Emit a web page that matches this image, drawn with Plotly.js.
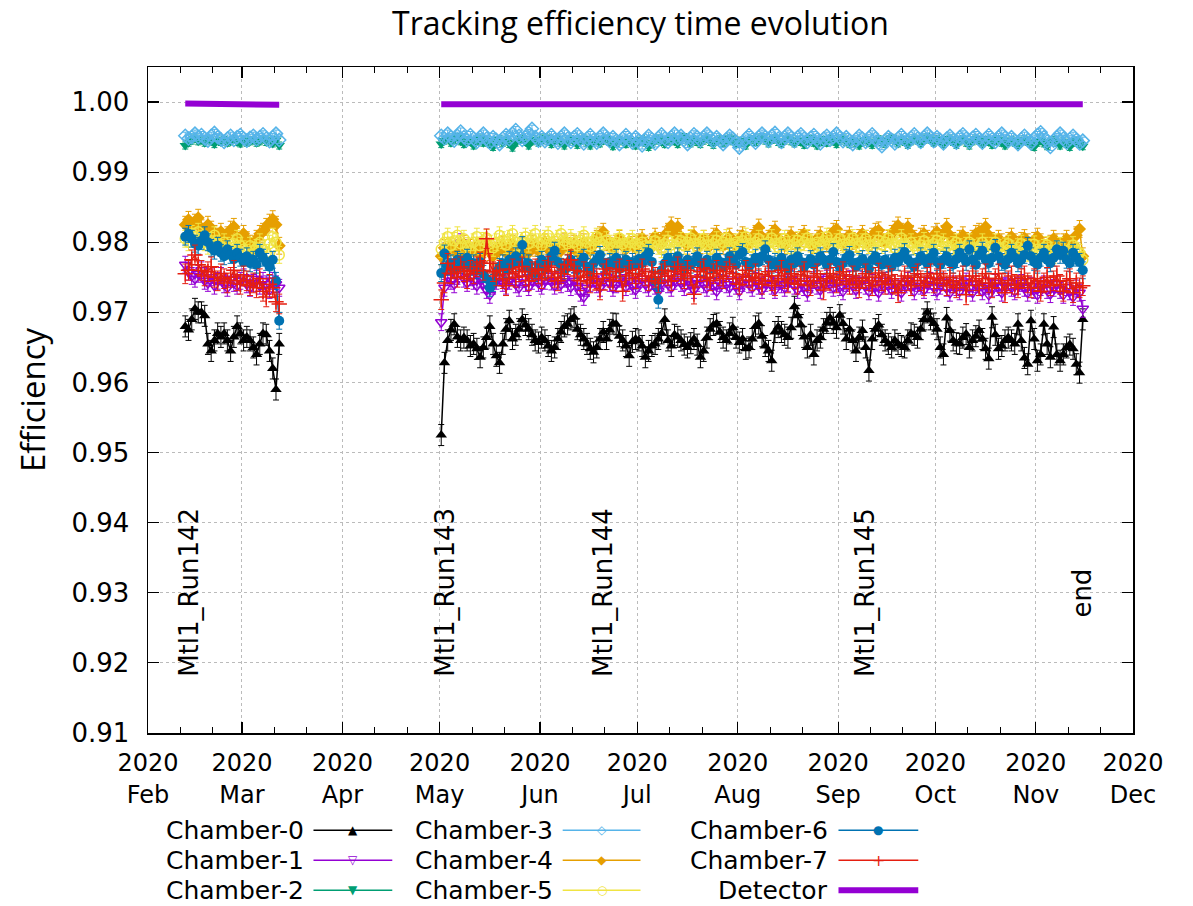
<!DOCTYPE html>
<html>
<head>
<meta charset="utf-8">
<script src="https://cdn.plot.ly/plotly-3.0.1.min.js"></script>
<style>html,body{margin:0;padding:0;background:#fff}#chart{width:1193px;height:906px}</style>
</head>
<body>
<div id="chart"></div>
<script>
// ---------- DATA ----------
const seg1Start = '2020-02-12';   // Mtl1_Run142 daily points
const seg2Start = '2020-05-01';   // Mtl1_Run143.. daily points
const gapDate = '2020-04-01';

const seriesNames = ['Chamber-0','Chamber-1','Chamber-2','Chamber-3','Chamber-4','Chamber-5','Chamber-6','Chamber-7','Detector'];

const monthTicks = ['2020-02-01','2020-03-01','2020-04-01','2020-05-01','2020-06-01','2020-07-01','2020-08-01','2020-09-01','2020-10-01','2020-11-01','2020-12-01'];
const monthLabels = ['2020<br>Feb','2020<br>Mar','2020<br>Apr','2020<br>May','2020<br>Jun','2020<br>Jul','2020<br>Aug','2020<br>Sep','2020<br>Oct','2020<br>Nov','2020<br>Dec'];
const minorTicks = ['2020-02-11','2020-02-21','2020-03-11','2020-03-21','2020-04-11','2020-04-21','2020-05-11','2020-05-21','2020-06-11','2020-06-21','2020-07-11','2020-07-21','2020-08-11','2020-08-21','2020-09-11','2020-09-21','2020-10-11','2020-10-21','2020-11-11','2020-11-21'];
const yTicks = [0.91,0.92,0.93,0.94,0.95,0.96,0.97,0.98,0.99,1.00];

const runLabels = ['Mtl1_Run142','Mtl1_Run143','Mtl1_Run144','Mtl1_Run145','end'];
const runDates = ['2020-02-13T16:00','2020-05-02T16:00','2020-06-20T12:00','2020-09-09T09:00','2020-11-15T05:00'];
const runLabelY = [0.93,0.93,0.93,0.93,0.93];

// Chamber-0
const c0Seg1 = [0.9680,0.9675,0.9690,0.9705,0.9700,0.9700,0.9695,0.9655,0.9645,0.9660,
0.9670,0.9665,0.9670,0.9660,0.9645,0.9665,0.9680,0.9670,0.9660,0.9665,
0.9660,0.9650,0.9640,0.9655,0.9670,0.9668,0.9645,0.9620,0.9590,0.9655];
const c0Seg2 = [0.9525,0.9628,0.9660,0.9675,0.9683,0.9665,0.9660,0.9664,0.9660,0.9652,
0.9655,0.9648,0.9636,0.9650,0.9664,0.9680,0.9655,0.9638,0.9628,0.9655,
0.9676,0.9688,0.9662,0.9668,0.9676,0.9690,0.9682,0.9676,0.9668,0.9660,
0.9657,0.9664,0.9660,0.9652,0.9645,0.9650,0.9662,0.9672,0.9680,0.9683,
0.9690,0.9693,0.9676,0.9668,0.9662,0.9655,0.9648,0.9643,0.9650,0.9662,
0.9672,0.9662,0.9675,0.9684,0.9683,0.9666,0.9660,0.9652,0.9638,0.9658,
0.9662,0.9660,0.9652,0.9636,0.9645,0.9652,0.9655,0.9662,0.9670,0.9690,
0.9660,0.9652,0.9668,0.9665,0.9660,0.9654,0.9650,0.9656,0.9662,0.9654,
0.9636,0.9645,0.9664,0.9676,0.9682,0.9684,0.9672,0.9664,0.9660,0.9670,
0.9678,0.9664,0.9657,0.9662,0.9648,0.9650,0.9662,0.9680,0.9684,0.9666,
0.9652,0.9645,0.9631,0.9672,0.9679,0.9672,0.9668,0.9664,0.9678,0.9708,
0.9695,0.9682,0.9665,0.9650,0.9668,0.9640,0.9660,0.9664,0.9676,0.9685,
0.9692,0.9685,0.9678,0.9696,0.9684,0.9662,0.9676,0.9660,0.9645,0.9664,
0.9674,0.9650,0.9617,0.9662,0.9676,0.9682,0.9668,0.9660,0.9655,0.9650,
0.9660,0.9655,0.9652,0.9650,0.9660,0.9670,0.9668,0.9664,0.9676,0.9690,
0.9700,0.9690,0.9684,0.9676,0.9650,0.9640,0.9692,0.9674,0.9660,0.9656,
0.9655,0.9664,0.9669,0.9650,0.9660,0.9666,0.9674,0.9662,0.9648,0.9634,
0.9693,0.9668,0.9648,0.9652,0.9660,0.9664,0.9660,0.9655,0.9683,0.9660,
0.9635,0.9626,0.9688,0.9662,0.9631,0.9640,0.9683,0.9655,0.9636,0.9679,
0.9640,0.9631,0.9640,0.9650,0.9654,0.9648,0.9626,0.9614,0.9690];

// Chamber-1
const c1Seg1 = [0.9768,0.9758,0.9752,0.9748,0.9755,0.9760,0.9745,0.9742,0.9750,0.9738,
0.9745,0.9752,0.9740,0.9735,0.9748,0.9742,0.9738,0.9745,0.9750,0.9740,
0.9735,0.9742,0.9748,0.9738,0.9745,0.9740,0.9732,0.9745,0.9740,0.9735];
const c1Seg2 = [0.9686,0.9735,0.9750,0.9745,0.9740,0.9752,0.9800,0.9748,0.9742,0.9750,
0.9745,0.9738,0.9748,0.9740,0.9732,0.9725,0.9738,0.9745,0.9750,0.9742,
0.9738,0.9745,0.9752,0.9740,0.9735,0.9748,0.9742,0.9736,0.9745,0.9750,
0.9742,0.9738,0.9745,0.9752,0.9744,0.9738,0.9745,0.9740,0.9748,0.9742,
0.9736,0.9745,0.9738,0.9728,0.9722,0.9735,0.9742,0.9748,0.9740,0.9735,
0.9745,0.9750,0.9742,0.9735,0.9740,0.9748,0.9742,0.9736,0.9745,0.9738,
0.9732,0.9742,0.9748,0.9740,0.9735,0.9745,0.9738,0.9730,0.9742,0.9748,
0.9740,0.9735,0.9745,0.9750,0.9742,0.9736,0.9745,0.9740,0.9732,0.9742,
0.9748,0.9740,0.9735,0.9745,0.9738,0.9730,0.9742,0.9748,0.9740,0.9735,
0.9745,0.9738,0.9730,0.9742,0.9748,0.9740,0.9735,0.9745,0.9738,0.9732,
0.9742,0.9748,0.9738,0.9732,0.9745,0.9740,0.9735,0.9742,0.9748,0.9738,
0.9732,0.9742,0.9736,0.9728,0.9740,0.9746,0.9738,0.9732,0.9742,0.9748,
0.9740,0.9735,0.9742,0.9736,0.9730,0.9742,0.9748,0.9738,0.9732,0.9740,
0.9746,0.9738,0.9730,0.9742,0.9736,0.9728,0.9740,0.9745,0.9738,0.9732,
0.9742,0.9736,0.9728,0.9740,0.9745,0.9736,0.9730,0.9742,0.9738,0.9732,
0.9740,0.9745,0.9736,0.9730,0.9738,0.9744,0.9735,0.9728,0.9740,0.9736,
0.9730,0.9738,0.9744,0.9735,0.9728,0.9740,0.9736,0.9730,0.9738,0.9725,
0.9735,0.9742,0.9736,0.9728,0.9738,0.9744,0.9735,0.9730,0.9738,0.9742,
0.9735,0.9728,0.9738,0.9732,0.9725,0.9736,0.9740,0.9732,0.9726,0.9735,
0.9740,0.9732,0.9725,0.9736,0.9730,0.9722,0.9734,0.9728,0.9705];

// Chamber-2
const c2Seg1 = [0.9938,0.9942,0.9945,0.9948,0.9944,0.9946,0.9942,0.9947,0.9944,0.9940,
0.9945,0.9943,0.9946,0.9942,0.9944,0.9947,0.9943,0.9941,0.9945,0.9942,
0.9944,0.9946,0.9942,0.9944,0.9947,0.9943,0.9945,0.9941,0.9946,0.9938];
const c2Seg2 = [0.9940,0.9945,0.9948,0.9942,0.9946,0.9950,0.9944,0.9940,0.9946,0.9943,
0.9938,0.9944,0.9948,0.9942,0.9945,0.9940,0.9936,0.9944,0.9947,0.9942,
0.9945,0.9940,0.9935,0.9942,0.9946,0.9948,0.9943,0.9938,0.9944,0.9947,
0.9942,0.9946,0.9950,0.9944,0.9940,0.9945,0.9948,0.9942,0.9938,0.9944,
0.9947,0.9943,0.9939,0.9945,0.9948,0.9942,0.9938,0.9944,0.9946,0.9941,
0.9945,0.9948,0.9943,0.9937,0.9942,0.9946,0.9944,0.9940,0.9945,0.9942,
0.9938,0.9944,0.9947,0.9942,0.9936,0.9940,0.9945,0.9948,0.9943,0.9940,
0.9945,0.9948,0.9944,0.9940,0.9946,0.9950,0.9945,0.9941,0.9946,0.9943,
0.9940,0.9945,0.9948,0.9943,0.9939,0.9944,0.9947,0.9942,0.9946,0.9949,
0.9944,0.9940,0.9945,0.9942,0.9938,0.9944,0.9947,0.9943,0.9946,0.9950,
0.9945,0.9941,0.9946,0.9948,0.9943,0.9940,0.9945,0.9948,0.9944,0.9941,
0.9946,0.9943,0.9939,0.9944,0.9947,0.9942,0.9938,0.9943,0.9946,0.9942,
0.9947,0.9944,0.9940,0.9945,0.9948,0.9943,0.9940,0.9945,0.9942,0.9938,
0.9943,0.9946,0.9942,0.9939,0.9944,0.9947,0.9943,0.9940,0.9946,0.9949,
0.9945,0.9941,0.9946,0.9943,0.9939,0.9944,0.9948,0.9945,0.9941,0.9946,
0.9950,0.9946,0.9942,0.9947,0.9944,0.9940,0.9945,0.9948,0.9943,0.9939,
0.9944,0.9947,0.9942,0.9938,0.9944,0.9948,0.9945,0.9941,0.9946,0.9943,
0.9939,0.9944,0.9947,0.9942,0.9938,0.9943,0.9946,0.9942,0.9939,0.9944,
0.9947,0.9943,0.9940,0.9936,0.9942,0.9945,0.9941,0.9937,0.9943,0.9946,
0.9942,0.9938,0.9944,0.9940,0.9936,0.9942,0.9945,0.9940,0.9937];

// Chamber-3
const c3Seg1 = [0.9952,0.9948,0.9950,0.9955,0.9950,0.9953,0.9948,0.9945,0.9952,0.9956,
0.9950,0.9947,0.9943,0.9948,0.9952,0.9946,0.9950,0.9953,0.9948,0.9945,
0.9949,0.9952,0.9947,0.9950,0.9954,0.9948,0.9944,0.9950,0.9955,0.9946];
const c3Seg2 = [0.9952,0.9948,0.9955,0.9950,0.9945,0.9952,0.9958,0.9950,0.9946,0.9953,
0.9948,0.9943,0.9950,0.9955,0.9948,0.9942,0.9950,0.9946,0.9940,0.9948,
0.9953,0.9947,0.9955,0.9960,0.9952,0.9946,0.9950,0.9956,0.9962,0.9950,
0.9945,0.9950,0.9944,0.9948,0.9953,0.9947,0.9942,0.9950,0.9955,0.9948,
0.9943,0.9950,0.9954,0.9947,0.9941,0.9948,0.9953,0.9946,0.9942,0.9950,
0.9955,0.9948,0.9944,0.9950,0.9945,0.9940,0.9948,0.9953,0.9947,0.9942,
0.9950,0.9945,0.9938,0.9946,0.9952,0.9947,0.9941,0.9949,0.9954,0.9948,
0.9943,0.9950,0.9955,0.9948,0.9952,0.9946,0.9940,0.9948,0.9954,0.9950,
0.9945,0.9950,0.9955,0.9949,0.9944,0.9950,0.9945,0.9940,0.9947,0.9952,
0.9948,0.9943,0.9935,0.9942,0.9948,0.9953,0.9947,0.9942,0.9950,0.9955,
0.9950,0.9945,0.9952,0.9956,0.9948,0.9943,0.9950,0.9955,0.9949,0.9944,
0.9950,0.9954,0.9948,0.9943,0.9949,0.9953,0.9947,0.9941,0.9948,0.9952,
0.9946,0.9950,0.9955,0.9949,0.9944,0.9950,0.9945,0.9940,0.9947,0.9952,
0.9948,0.9943,0.9949,0.9954,0.9948,0.9942,0.9937,0.9945,0.9950,0.9946,
0.9941,0.9948,0.9953,0.9947,0.9942,0.9949,0.9954,0.9948,0.9943,0.9950,
0.9955,0.9949,0.9944,0.9950,0.9946,0.9941,0.9948,0.9952,0.9946,0.9942,
0.9950,0.9954,0.9948,0.9943,0.9949,0.9953,0.9947,0.9942,0.9948,0.9953,
0.9947,0.9943,0.9950,0.9955,0.9949,0.9944,0.9950,0.9945,0.9940,0.9947,
0.9952,0.9946,0.9941,0.9948,0.9953,0.9957,0.9950,0.9944,0.9936,0.9945,
0.9950,0.9955,0.9948,0.9942,0.9947,0.9952,0.9946,0.9941,0.9945];

// Chamber-4
const c4Seg1 = [0.9825,0.9832,0.9822,0.9828,0.9835,0.9820,0.9815,0.9825,0.9818,0.9812,
0.9808,0.9815,0.9802,0.9810,0.9818,0.9822,0.9808,0.9800,0.9812,0.9803,
0.9798,0.9790,0.9805,0.9812,0.9815,0.9822,0.9828,0.9833,0.9825,0.9795];
const c4Seg2 = [0.9780,0.9792,0.9785,0.9795,0.9788,0.9782,0.9790,0.9798,0.9785,0.9792,
0.9788,0.9795,0.9782,0.9790,0.9800,0.9786,0.9780,0.9792,0.9788,0.9796,
0.9785,0.9792,0.9798,0.9788,0.9782,0.9795,0.9790,0.9785,0.9798,0.9792,
0.9788,0.9795,0.9800,0.9790,0.9785,0.9796,0.9792,0.9788,0.9800,0.9795,
0.9790,0.9798,0.9786,0.9792,0.9800,0.9795,0.9788,0.9796,0.9805,0.9810,
0.9815,0.9800,0.9795,0.9790,0.9798,0.9805,0.9795,0.9790,0.9800,0.9796,
0.9792,0.9800,0.9806,0.9798,0.9792,0.9800,0.9808,0.9802,0.9798,0.9810,
0.9815,0.9824,0.9812,0.9822,0.9808,0.9800,0.9795,0.9805,0.9810,0.9800,
0.9796,0.9805,0.9800,0.9795,0.9808,0.9812,0.9800,0.9795,0.9802,0.9808,
0.9800,0.9795,0.9805,0.9810,0.9802,0.9798,0.9806,0.9812,0.9821,0.9808,
0.9800,0.9805,0.9812,0.9818,0.9806,0.9800,0.9795,0.9805,0.9810,0.9802,
0.9798,0.9806,0.9812,0.9805,0.9800,0.9796,0.9805,0.9810,0.9802,0.9798,
0.9808,0.9815,0.9819,0.9806,0.9800,0.9805,0.9810,0.9802,0.9798,0.9806,
0.9812,0.9805,0.9800,0.9808,0.9815,0.9817,0.9806,0.9800,0.9805,0.9812,
0.9818,0.9824,0.9815,0.9810,0.9822,0.9812,0.9805,0.9800,0.9808,0.9812,
0.9805,0.9800,0.9810,0.9815,0.9806,0.9812,0.9822,0.9810,0.9802,0.9798,
0.9805,0.9810,0.9802,0.9796,0.9805,0.9812,0.9815,0.9808,0.9822,0.9810,
0.9802,0.9798,0.9805,0.9800,0.9795,0.9802,0.9808,0.9800,0.9796,0.9802,
0.9806,0.9800,0.9795,0.9802,0.9808,0.9800,0.9795,0.9790,0.9798,0.9805,
0.9800,0.9794,0.9800,0.9805,0.9798,0.9792,0.9810,0.9819,0.9780];

// Chamber-5
const c5Seg1 = [0.9805,0.9800,0.9812,0.9808,0.9815,0.9805,0.9800,0.9795,0.9802,0.9810,
0.9798,0.9792,0.9800,0.9795,0.9788,0.9798,0.9805,0.9795,0.9790,0.9785,
0.9795,0.9788,0.9792,0.9800,0.9790,0.9785,0.9798,0.9808,0.9800,0.9782];
const c5Seg2 = [0.9790,0.9800,0.9808,0.9795,0.9802,0.9810,0.9798,0.9805,0.9795,0.9788,
0.9800,0.9808,0.9795,0.9802,0.9806,0.9798,0.9792,0.9800,0.9810,0.9803,
0.9796,0.9805,0.9812,0.9800,0.9795,0.9802,0.9808,0.9798,0.9805,0.9812,
0.9800,0.9795,0.9805,0.9810,0.9800,0.9796,0.9805,0.9812,0.9802,0.9798,
0.9806,0.9800,0.9795,0.9803,0.9810,0.9800,0.9794,0.9802,0.9808,0.9800,
0.9796,0.9803,0.9798,0.9792,0.9800,0.9806,0.9798,0.9793,0.9800,0.9805,
0.9798,0.9792,0.9800,0.9795,0.9788,0.9796,0.9802,0.9795,0.9790,0.9798,
0.9803,0.9796,0.9790,0.9798,0.9802,0.9795,0.9800,0.9806,0.9798,0.9792,
0.9800,0.9805,0.9796,0.9790,0.9798,0.9803,0.9796,0.9800,0.9806,0.9798,
0.9792,0.9800,0.9796,0.9802,0.9808,0.9798,0.9793,0.9800,0.9805,0.9797,
0.9792,0.9800,0.9806,0.9798,0.9793,0.9800,0.9805,0.9796,0.9790,0.9798,
0.9803,0.9796,0.9800,0.9806,0.9798,0.9792,0.9800,0.9795,0.9802,0.9808,
0.9798,0.9793,0.9800,0.9805,0.9797,0.9792,0.9800,0.9806,0.9798,0.9794,
0.9800,0.9805,0.9796,0.9790,0.9798,0.9803,0.9796,0.9800,0.9806,0.9798,
0.9792,0.9800,0.9806,0.9798,0.9793,0.9800,0.9795,0.9788,0.9796,0.9802,
0.9795,0.9790,0.9798,0.9803,0.9796,0.9800,0.9794,0.9788,0.9796,0.9800,
0.9793,0.9787,0.9795,0.9800,0.9792,0.9786,0.9794,0.9800,0.9795,0.9788,
0.9795,0.9800,0.9792,0.9786,0.9794,0.9798,0.9790,0.9785,0.9793,0.9798,
0.9790,0.9785,0.9792,0.9797,0.9790,0.9784,0.9792,0.9796,0.9788,0.9782,
0.9790,0.9795,0.9787,0.9782,0.9790,0.9796,0.9788,0.9785,0.9775];

// Chamber-6
const c6Seg1 = [0.9808,0.9812,0.9805,0.9798,0.9795,0.9802,0.9810,0.9800,0.9792,0.9788,
0.9795,0.9785,0.9780,0.9790,0.9782,0.9776,0.9785,0.9778,0.9772,0.9780,
0.9770,0.9775,0.9768,0.9785,0.9778,0.9772,0.9765,0.9775,0.9745,0.9688];
const c6Seg2 = [0.9756,0.9784,0.9765,0.9770,0.9762,0.9775,0.9772,0.9768,0.9778,0.9765,
0.9770,0.9760,0.9772,0.9755,0.9748,0.9735,0.9742,0.9758,0.9765,0.9770,
0.9762,0.9775,0.9768,0.9780,0.9772,0.9796,0.9765,0.9770,0.9758,0.9756,
0.9768,0.9775,0.9762,0.9770,0.9780,0.9788,0.9772,0.9765,0.9760,0.9770,
0.9775,0.9768,0.9760,0.9772,0.9778,0.9765,0.9758,0.9770,0.9775,0.9782,
0.9770,0.9765,0.9772,0.9768,0.9778,0.9762,0.9770,0.9775,0.9765,0.9772,
0.9768,0.9776,0.9770,0.9780,0.9785,0.9772,0.9745,0.9718,0.9760,0.9770,
0.9778,0.9772,0.9765,0.9780,0.9770,0.9762,0.9775,0.9768,0.9772,0.9780,
0.9770,0.9765,0.9775,0.9768,0.9762,0.9778,0.9772,0.9765,0.9770,0.9780,
0.9775,0.9768,0.9782,0.9786,0.9772,0.9765,0.9770,0.9778,0.9772,0.9780,
0.9790,0.9775,0.9768,0.9772,0.9765,0.9778,0.9770,0.9762,0.9775,0.9770,
0.9780,0.9772,0.9765,0.9770,0.9776,0.9768,0.9772,0.9780,0.9775,0.9768,
0.9775,0.9786,0.9772,0.9765,0.9770,0.9778,0.9782,0.9770,0.9765,0.9772,
0.9776,0.9770,0.9762,0.9775,0.9780,0.9772,0.9768,0.9775,0.9770,0.9765,
0.9778,0.9772,0.9780,0.9786,0.9775,0.9770,0.9765,0.9772,0.9780,0.9775,
0.9770,0.9778,0.9785,0.9772,0.9768,0.9775,0.9780,0.9772,0.9768,0.9776,
0.9785,0.9778,0.9772,0.9790,0.9775,0.9768,0.9782,0.9788,0.9775,0.9770,
0.9778,0.9792,0.9780,0.9772,0.9768,0.9776,0.9785,0.9778,0.9770,0.9775,
0.9782,0.9795,0.9780,0.9772,0.9768,0.9778,0.9785,0.9775,0.9770,0.9778,
0.9790,0.9782,0.9788,0.9775,0.9770,0.9785,0.9778,0.9772,0.9760];

// Chamber-7
const c7Seg1 = [0.9755,0.9760,0.9775,0.9782,0.9768,0.9760,0.9752,0.9758,0.9765,0.9750,
0.9745,0.9755,0.9748,0.9742,0.9750,0.9760,0.9745,0.9740,0.9752,0.9745,
0.9738,0.9742,0.9735,0.9748,0.9730,0.9722,0.9740,0.9735,0.9715,0.9712];
const c7Seg2 = [0.9718,0.9742,0.9770,0.9755,0.9762,0.9750,0.9765,0.9758,0.9748,0.9760,
0.9755,0.9765,0.9772,0.9760,0.9805,0.9770,0.9758,0.9752,0.9760,0.9748,
0.9738,0.9755,0.9762,0.9750,0.9758,0.9765,0.9752,0.9745,0.9758,0.9762,
0.9755,0.9748,0.9760,0.9766,0.9758,0.9750,0.9745,0.9755,0.9762,0.9768,
0.9775,0.9760,0.9752,0.9745,0.9758,0.9750,0.9742,0.9755,0.9748,0.9732,
0.9755,0.9762,0.9750,0.9745,0.9758,0.9762,0.9730,0.9752,0.9760,0.9755,
0.9748,0.9755,0.9762,0.9752,0.9745,0.9758,0.9750,0.9742,0.9755,0.9760,
0.9752,0.9745,0.9758,0.9765,0.9755,0.9748,0.9760,0.9752,0.9726,0.9750,
0.9758,0.9762,0.9750,0.9745,0.9755,0.9760,0.9752,0.9748,0.9758,0.9765,
0.9755,0.9748,0.9740,0.9752,0.9760,0.9750,0.9745,0.9755,0.9748,0.9740,
0.9752,0.9758,0.9745,0.9738,0.9752,0.9760,0.9748,0.9742,0.9755,0.9748,
0.9740,0.9752,0.9758,0.9745,0.9738,0.9750,0.9755,0.9745,0.9732,0.9748,
0.9755,0.9750,0.9742,0.9752,0.9758,0.9748,0.9740,0.9752,0.9745,0.9735,
0.9748,0.9755,0.9745,0.9738,0.9750,0.9756,0.9745,0.9740,0.9752,0.9748,
0.9740,0.9728,0.9745,0.9752,0.9745,0.9738,0.9750,0.9755,0.9745,0.9738,
0.9750,0.9755,0.9742,0.9748,0.9755,0.9745,0.9738,0.9750,0.9742,0.9735,
0.9745,0.9752,0.9725,0.9745,0.9752,0.9745,0.9738,0.9748,0.9755,0.9742,
0.9735,0.9748,0.9755,0.9742,0.9728,0.9745,0.9752,0.9740,0.9735,0.9748,
0.9752,0.9742,0.9735,0.9748,0.9745,0.9730,0.9742,0.9750,0.9738,0.9745,
0.9752,0.9740,0.9730,0.9745,0.9748,0.9728,0.9742,0.9735,0.9738];

// Detector
const detSeg1 = [0.9998,0.9998,0.9998,0.9997,0.9998,0.9998,0.9997,0.9998,0.9997,0.9997,
0.9998,0.9997,0.9997,0.9998,0.9997,0.9997,0.9997,0.9998,0.9997,0.9997,
0.9997,0.9996,0.9997,0.9997,0.9996,0.9997,0.9996,0.9996,0.9997,0.9996];
const detSeg2 = [0.9997,0.9997,0.9998,0.9997,0.9997,0.9998,0.9997,0.9997,0.9997,0.9998,
0.9997,0.9997,0.9998,0.9997,0.9997,0.9997,0.9998,0.9997,0.9997,0.9997,
0.9998,0.9997,0.9997,0.9998,0.9998,0.9997,0.9997,0.9997,0.9998,0.9997,
0.9997,0.9997,0.9998,0.9997,0.9997,0.9998,0.9997,0.9997,0.9997,0.9997,
0.9997,0.9998,0.9997,0.9997,0.9997,0.9997,0.9996,0.9997,0.9997,0.9997,
0.9997,0.9997,0.9996,0.9997,0.9997,0.9997,0.9997,0.9996,0.9997,0.9997,
0.9997,0.9997,0.9997,0.9996,0.9997,0.9997,0.9997,0.9997,0.9997,0.9998,
0.9997,0.9997,0.9998,0.9997,0.9997,0.9997,0.9998,0.9997,0.9997,0.9998,
0.9997,0.9997,0.9997,0.9998,0.9997,0.9997,0.9997,0.9998,0.9997,0.9997,
0.9997,0.9998,0.9997,0.9997,0.9997,0.9997,0.9998,0.9997,0.9997,0.9997,
0.9998,0.9997,0.9997,0.9997,0.9997,0.9998,0.9997,0.9997,0.9997,0.9997,
0.9997,0.9998,0.9997,0.9997,0.9997,0.9997,0.9997,0.9998,0.9997,0.9997,
0.9997,0.9997,0.9998,0.9997,0.9997,0.9997,0.9997,0.9997,0.9998,0.9997,
0.9997,0.9997,0.9997,0.9997,0.9997,0.9998,0.9997,0.9997,0.9997,0.9997,
0.9997,0.9997,0.9997,0.9998,0.9997,0.9997,0.9997,0.9997,0.9997,0.9997,
0.9998,0.9997,0.9997,0.9997,0.9997,0.9997,0.9997,0.9998,0.9997,0.9997,
0.9997,0.9997,0.9997,0.9997,0.9998,0.9997,0.9997,0.9997,0.9997,0.9997,
0.9997,0.9997,0.9997,0.9998,0.9997,0.9997,0.9997,0.9997,0.9997,0.9997,
0.9997,0.9997,0.9997,0.9997,0.9997,0.9997,0.9997,0.9997,0.9997,0.9997,
0.9997,0.9997,0.9997,0.9997,0.9997,0.9997,0.9997,0.9997,0.9997];

const seg1Values = [c0Seg1,c1Seg1,c2Seg1,c3Seg1,c4Seg1,c5Seg1,c6Seg1,c7Seg1,detSeg1];
const seg2Values = [c0Seg2,c1Seg2,c2Seg2,c3Seg2,c4Seg2,c5Seg2,c6Seg2,c7Seg2,detSeg2];
const errValues = [0.0015,0.0012,0.0005,0.0005,0.0012,0.0012,0.0012,0.0014,0];

// ---------- STYLE ----------
const colors = ['#000000','#9400D3','#009E73','#56B4E9','#E69F00','#F0E442','#0072B2','#E51E10','#9400D3'];
const symbols = ['triangle-up','triangle-down-open','triangle-down','diamond-open','diamond','circle-open','circle','cross-thin-open',null];
const legendGlyphs = ['\u25B2','\u25BD','\u25BC','\u25C7','\u25C6','\u25CB','\u25CF','+',''];
// legend layout (paper coordinates): 3 columns x 3 rows, text right-aligned before the sample
const legendColText = [0.160, 0.413, 0.692];
const legendColLine = [[0.168, 0.248], [0.421, 0.500], [0.701, 0.782]];
const legendRowY = [-0.146, -0.191, -0.236];

function dailyDates(start, n) {
  const t0 = Date.parse(start + 'T12:00:00Z');
  const out = [];
  for (let i = 0; i < n; i++) out.push(new Date(t0 + i * 86400000).toISOString().slice(0, 16));
  return out;
}

const traces = seriesNames.map((name, k) => {
  const x = dailyDates(seg1Start, seg1Values[k].length).concat([gapDate], dailyDates(seg2Start, seg2Values[k].length));
  const y = seg1Values[k].concat([null], seg2Values[k]);
  const isDet = name === 'Detector';
  const t = {
    type: 'scatter', name: name, x: x, y: y,
    mode: isDet ? 'lines' : 'lines+markers',
    connectgaps: false,
    line: {color: colors[k], width: isDet ? 6 : 1.5},
    showlegend: false
  };
  if (!isDet) {
    const open = symbols[k].indexOf('open') >= 0;
    t.marker = {symbol: symbols[k], size: symbols[k].startsWith('cross') ? 11 : 10, color: colors[k],
                line: {color: colors[k], width: open ? 1.5 : 0}};
    t.error_y = {type: 'constant', value: errValues[k], color: colors[k], thickness: 1, width: 3};
  }
  return t;
});

const annotations = runLabels.map((txt, i) => ({
  x: runDates[i], y: runLabelY[i], xref: 'x', yref: 'y', text: txt, textangle: -90,
  showarrow: false, xanchor: 'center', yanchor: 'middle',
  font: {family: 'DejaVu Sans', size: 26, color: '#000'}
}));

const shapes = [];
seriesNames.forEach((name, k) => {
  const col = Math.floor(k / 3), row = k % 3;
  const isDet = name === 'Detector';
  annotations.push({
    x: legendColText[col], y: legendRowY[row], xref: 'paper', yref: 'paper', text: name,
    showarrow: false, xanchor: 'right', yanchor: 'middle',
    font: {family: 'DejaVu Sans', size: 25, color: '#000'}
  });
  shapes.push({
    type: 'line', xref: 'paper', yref: 'paper',
    x0: legendColLine[col][0], x1: legendColLine[col][1], y0: legendRowY[row], y1: legendRowY[row],
    line: {color: colors[k], width: isDet ? 6 : 1.5}
  });
  if (!isDet) {
    annotations.push({
      x: (legendColLine[col][0] + legendColLine[col][1]) / 2, y: legendRowY[row], xref: 'paper', yref: 'paper',
      text: legendGlyphs[k], showarrow: false, xanchor: 'center', yanchor: 'middle',
      font: {family: 'DejaVu Sans', size: legendGlyphs[k] === '+' ? 16 : 12, color: colors[k]}
    });
  }
});

const layout = {
  width: 1193, height: 906,
  paper_bgcolor: '#fff', plot_bgcolor: '#fff',
  margin: {l: 148, r: 60, t: 67, b: 173, autoexpand: false},
  title: {text: 'Tracking efficiency time evolution', x: 0.5, xref: 'paper', y: 0.9735, yref: 'container', yanchor: 'middle',
          font: {family: 'Open Sans', size: 32, color: '#000'}},
  showlegend: false,
  xaxis: {
    type: 'date', range: ['2020-02-01', '2020-12-01'],
    tickmode: 'array', tickvals: monthTicks, ticktext: monthLabels,
    ticks: 'inside', ticklen: 11, tickwidth: 1.2, tickcolor: '#000',
    mirror: 'allticks', showline: true, linecolor: '#000', linewidth: 1.5,
    showgrid: true, gridcolor: '#bbbbbb', griddash: 'dot', gridwidth: 1,
    zeroline: false, ticklabelstandoff: 8,
    tickfont: {family: 'DejaVu Sans', size: 24, color: '#000'},
    minor: {tickmode: 'array', tickvals: minorTicks,
            ticks: 'inside', ticklen: 6, tickwidth: 1, tickcolor: '#000', showgrid: false}
  },
  yaxis: {
    range: [0.91, 1.005], tickmode: 'array', tickvals: yTicks, tickformat: '.2f',
    ticks: 'inside', ticklen: 11, tickwidth: 1.2, tickcolor: '#000',
    mirror: 'allticks', showline: true, linecolor: '#000', linewidth: 1.5,
    showgrid: true, gridcolor: '#bbbbbb', griddash: 'dot', gridwidth: 1,
    zeroline: false, ticklabelstandoff: 12,
    tickfont: {family: 'DejaVu Sans', size: 26, color: '#000'},
    title: {text: 'Efficiency', standoff: 16, font: {family: 'Open Sans', size: 33, color: '#000'}}
  },
  annotations: annotations,
  shapes: shapes
};

Plotly.newPlot('chart', traces, layout, {displayModeBar: false, staticPlot: true});
</script>
</body>
</html>
